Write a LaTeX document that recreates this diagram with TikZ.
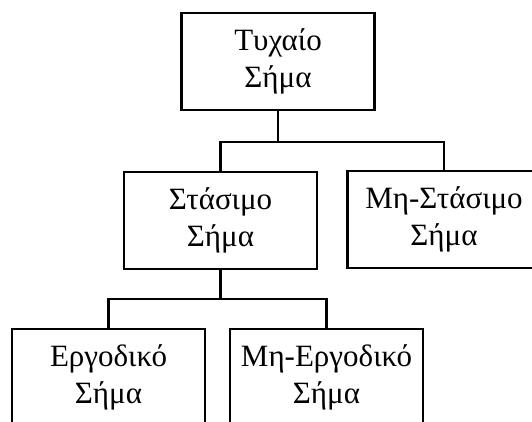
\documentclass[tikz,border=0pt]{standalone}
\usepackage{fontspec}
\setmainfont{Liberation Serif}
\begin{document}
\begin{tikzpicture}[x=1pt,y=-1pt,
  box/.style={draw=black, line width=2.6pt, fill=white, minimum width=193pt, minimum height=97pt,
    align=center, inner sep=0pt, font=\fontsize{31}{37}\selectfont, text=black},
  link/.style={draw=black, line width=2.4pt}]
\useasboundingbox (0,0) rectangle (532,421);
\clip (0,0) rectangle (532,421);
\fill[white] (0,0) rectangle (532,421);
\node[box] (top) at (278,61.5) {Τυχαίο\\Σήμα};
\node[box] (stat) at (220.5,220.5) {Στάσιμο\\Σήμα};
\node[box] (nonstat) at (444,219.5) {Μη-Στάσιμο\\Σήμα};
\node[box] (erg) at (108.5,377.5) {Εργοδικό\\Σήμα};
\node[box] (nonerg) at (326.5,377.5) {Μη-Εργοδικό\\Σήμα};
\coordinate (j1) at (278,142);
\coordinate (j2) at (220.5,299);
\draw[link] (top.south) -- (j1);
\draw[link] (j1) -| (stat.north);
\draw[link] (j1) -| (nonstat.north);
\draw[link] (stat.south) -- (j2);
\draw[link] (j2) -| (erg.north);
\draw[link] (j2) -| (nonerg.north);
\end{tikzpicture}
\end{document}
